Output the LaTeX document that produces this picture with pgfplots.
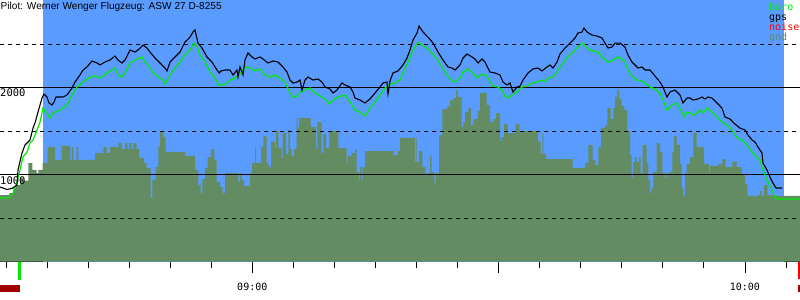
\documentclass[border=0pt]{standalone}
\usepackage{pgfplots}
\pgfplotsset{compat=1.18}
\usepackage{fontspec}
\setmainfont{Liberation Sans}
\newfontfamily\mono{DejaVu Sans Mono}
\definecolor{skyb}{RGB}{90,155,255}
\definecolor{gndc}{RGB}{99,140,99}
\definecolor{baroc}{RGB}{0,235,0}
\definecolor{darkr}{RGB}{160,0,0}
\begin{document}
\begin{tikzpicture}
\useasboundingbox (0,-38.5bp) rectangle (800bp,261.5bp);
\begin{axis}[
 width=800bp, height=261.5bp, scale only axis,
 xmin=0, xmax=800, ymin=0, ymax=3006,
 axis x line*=bottom, axis y line=none,
 clip=false,
 tick align=outside,
 xtick={6,47.05,88.1,129.15,170.2,211.25,293.35,334.4,375.45,416.5,457.55,539.65,580.7,621.75,662.8,703.85,785.95},
 xticklabels={},
 major tick length=6bp,
 extra x ticks={252.3,498.6,744.9},
 extra x tick labels={},
 extra x tick style={major tick length=11bp},
 tick style={black, line width=0.8bp},
 axis line style={black, line width=1bp},
]
% blue flight background
\addplot[fill=skyb, draw=none] coordinates {(43.3,0) (43.3,3006) (783.5,3006) (783.5,0)} -- cycle;
% terrain (gnd)
\addplot[const plot, fill=gndc, draw=none] table {
x y
0 764
9.3 787
13.3 845
16 879
20 960
23.3 930
28.3 1132
32.3 1052
36.7 1017
38.3 1052
42.7 1132
47.7 1316
55 1167
61.7 1328
70 1167
71.7 1316
73.3 1167
76.7 1316
78.3 1167
95 1247
103.3 1316
106.7 1247
110 1316
115 1316
118.3 1362
121.7 1293
125 1362
127.3 1293
129 1362
131.7 1293
133.3 1362
136.7 1293
139.3 1190
144 1132
146.7 1075
150.7 730
152.3 937
155.7 1086
158.3 1316
160 1500
163.3 1431
165.7 1259
185 1213
195 1052
198.3 879
200.7 787
202.3 948
205 1075
207.7 1201
211 1293
214.3 1167
216.7 914
220 856
222.7 787
225 1017
238.3 914
240 1017
241.7 937
244 868
250 1017
252 1132
255 1316
256 1132
261 1316
263.3 1442
266.7 1132
268.3 1098
270 1075
271 1374
275 1305
276 1500
278.3 1305
281.7 1190
282.7 1477
286 1236
288.3 1511
290 1293
291.7 1213
294 1293
296.7 1649
297.7 1546
299 1649
310.7 1546
316 1293
317.3 1603
321.7 1247
323.3 1465
326 1305
329.3 1500
338.3 1305
346.7 1132
347.7 1213
351.7 1247
355 1293
356.7 1029
359 937
360 1086
361.7 937
362.7 1086
365 1270
393.3 1224
397.7 1270
400 1420
415 1144
416 1420
416.7 1144
419 1270
422.3 1086
425.7 971
426.7 1017
430 1213
431.7 1029
434.3 902
435.7 1017
439 1454
442.3 1753
447.3 1787
450 1856
453.3 1879
456 1971
457.7 1891
461.7 1546
463.3 1603
465 1718
468.3 1764
471 1569
473.3 1638
477.7 1730
480 1937
486.7 1799
490 1603
493.3 1638
496 1707
500 1385
501 1431
504 1580
507.7 1477
515.7 1580
519.3 1500
538 1374
540.7 1236
542.3 1477
543.3 1236
546 1178
572.7 1075
585 1132
588.3 1339
592.7 1167
595.7 1109
598.3 1316
601 1534
605 1569
607.3 1764
610.7 1638
613.3 1764
615 1891
617.3 1971
619.3 1868
621.7 1787
624.3 1741
627.3 1500
630 1224
631.7 971
633.3 1144
635 1201
636.7 1144
639 1201
640.7 1017
642.7 1339
646.7 1132
648.3 937
650 787
651.7 845
653.3 1029
656.7 1362
660 1259
662.3 1017
665 960
666.7 1017
670 1029
672.3 1259
674 1442
676.7 1339
680 1121
681.7 845
683.3 753
685 1017
686.7 1121
690 1201
693.3 1477
696.7 1316
704 1121
709 1017
710 1098
718.3 1121
722.3 1178
725.7 1086
732.3 1144
736.7 1086
741.7 994
745 891
747.3 753
755 741
756.7 764
760 810
761.7 753
764 879
767.3 764
773.3 753
800 753
} \closedcycle;
% grid lines
\addplot[black, line width=1bp, dash pattern=on 4bp off 4bp] coordinates {(0,500) (800,500)};
\addplot[black, line width=1bp, dash pattern=on 4bp off 4bp] coordinates {(0,1500) (800,1500)};
\addplot[black, line width=1bp, dash pattern=on 4bp off 4bp] coordinates {(0,2500) (800,2500)};
\addplot[black, line width=1bp] coordinates {(0,1000) (800,1000)};
\addplot[black, line width=1bp] coordinates {(0,2000) (800,2000)};
\node[anchor=north west, inner sep=0pt, font=\mono\fontsize{10.5bp}{10.5bp}\selectfont] at (axis cs:0,1983) {2000};
\node[anchor=north west, inner sep=0pt, font=\mono\fontsize{10.5bp}{10.5bp}\selectfont] at (axis cs:0,977) {1000};
% baro
\addplot[baroc, line width=1.2bp] table {
x y
0 730
9 730
13 787
17 914
20 1052
23 1201
27 1259
30 1362
33 1397
37 1511
40 1603
43 1764
47 1707
50 1649
53 1707
60 1741
67 1799
72 1914
77 2006
83 2063
90 2121
95 2132
100 2109
107 2167
115 2224
118 2144
122 2121
125 2167
130 2282
135 2316
142 2351
145 2293
148 2259
153 2178
158 2121
163 2086
165 2040
170 2144
175 2224
180 2293
185 2374
190 2431
194 2511
197 2465
200 2374
205 2293
210 2178
215 2109
219 2029
223 2029
227 2052
230 2086
235 2109
240 2155
245 2236
250 2224
255 2190
260 2213
265 2144
270 2121
275 2144
280 2109
285 2063
290 1937
293 1891
297 1902
300 1948
305 1971
310 1994
315 1937
320 1902
325 1868
329 1810
333 1856
338 1891
345 1914
350 1833
355 1741
360 1718
365 1672
370 1764
375 1833
380 1914
385 1994
390 2040
395 2052
400 2086
403 2167
408 2293
413 2431
418 2523
422 2488
427 2454
432 2397
437 2328
442 2236
447 2144
452 2075
455 2063
460 2109
463 2178
468 2213
473 2167
477 2109
482 2155
487 2132
490 2063
493 2017
498 2006
502 1971
505 1902
508 1879
512 1914
517 1948
522 2006
527 2017
532 2052
537 2063
542 2086
545 2063
548 2109
553 2121
557 2178
560 2236
565 2316
570 2374
575 2431
578 2465
583 2511
588 2442
593 2420
598 2408
603 2339
608 2293
612 2305
617 2351
622 2328
625 2293
628 2201
632 2132
637 2086
642 2075
645 2052
650 2006
655 1983
660 1937
663 1856
667 1741
672 1799
677 1822
682 1718
684 1661
687 1718
690 1707
693 1684
697 1707
700 1741
703 1707
707 1764
712 1718
717 1661
722 1603
727 1569
732 1511
737 1420
742 1397
747 1339
752 1259
757 1201
760 1167
763 1052
767 937
772 822
775 730
780 718
800 718
};
% gps
\addplot[black, line width=1.1bp] table {
x y
0 856
7 828
12 840
17 879
18 1052
22 1247
25 1339
30 1397
33 1534
35 1592
38 1718
42 1879
44 1925
47 1891
49 1822
52 1799
54 1833
56 1891
63 1891
67 1914
72 1994
75 2063
80 2144
83 2201
87 2236
92 2305
97 2282
100 2259
105 2293
110 2316
115 2362
118 2316
122 2282
125 2316
130 2431
135 2408
138 2431
143 2488
147 2454
150 2408
155 2339
160 2282
165 2224
167 2190
170 2293
175 2351
180 2408
185 2523
190 2580
193 2638
195 2661
198 2511
202 2454
207 2351
212 2293
215 2236
219 2167
221 2190
225 2201
230 2201
233 2144
237 2201
238 2121
240 2236
242 2178
243 2144
245 2316
248 2397
252 2351
255 2328
260 2351
263 2328
268 2282
273 2305
278 2293
283 2236
287 2178
290 2086
293 2052
297 2063
300 2086
302 1971
305 2086
308 2121
313 2086
318 2098
322 2063
325 2006
330 1983
333 1937
337 1971
342 2052
345 2029
350 2006
353 1948
355 1879
360 1856
365 1822
370 1868
375 1937
380 2006
383 2052
387 2063
388 1925
390 2075
393 2167
398 2190
403 2259
407 2339
410 2431
413 2546
417 2626
419 2707
423 2638
428 2580
433 2511
438 2408
443 2316
448 2236
452 2224
455 2201
460 2259
463 2339
467 2385
472 2351
475 2328
478 2282
482 2328
485 2293
490 2178
495 2167
500 2144
503 2063
507 2029
510 2052
513 1948
517 2006
520 2017
523 2086
528 2167
533 2213
538 2224
542 2190
547 2236
550 2259
553 2224
557 2293
560 2385
565 2454
570 2511
575 2569
578 2626
582 2638
584 2684
587 2638
592 2603
597 2592
602 2569
605 2511
608 2454
612 2465
615 2511
620 2511
625 2465
628 2374
632 2293
635 2259
638 2224
642 2236
645 2201
650 2201
655 2132
660 2063
663 2006
667 1891
670 1948
675 1971
680 1914
683 1822
687 1879
690 1879
693 1856
698 1868
702 1891
705 1868
708 1891
712 1879
717 1822
722 1764
725 1661
730 1638
735 1580
740 1534
745 1511
748 1454
752 1397
755 1374
758 1316
762 1247
763 1132
767 1052
770 971
773 902
776 845
782 845
};
% title and legend
\node[anchor=base west, inner sep=0pt, font=\fontsize{10.1bp}{10.1bp}\selectfont] at (axis cs:0.5,2897) {Pilot: Werner Wenger Flugzeug: ASW 27 D-8255};
\node[anchor=base west, inner sep=0pt, text=baroc, font=\mono\fontsize{10bp}{10bp}\selectfont] at (axis cs:769,2891) {baro};
\node[anchor=base west, inner sep=0pt, text=black, font=\mono\fontsize{10bp}{10bp}\selectfont] at (axis cs:769,2776) {gps};
\node[anchor=base west, inner sep=0pt, text=red, font=\mono\fontsize{10bp}{10bp}\selectfont] at (axis cs:769,2661) {noise};
\node[anchor=base west, inner sep=0pt, text=gndc, font=\mono\fontsize{10bp}{10bp}\selectfont] at (axis cs:769,2546) {gnd};
% time labels
\node[anchor=base, inner sep=0pt, font=\mono\fontsize{10bp}{10bp}\selectfont] at (axis cs:252.3,-328) {09:00};
\node[anchor=base, inner sep=0pt, font=\mono\fontsize{10bp}{10bp}\selectfont] at (axis cs:744.9,-328) {10:00};
% takeoff / landing markers
\addplot[baroc, line width=2.5bp] coordinates {(19.5,0) (19.5,-213)};
\addplot[red, line width=2bp] coordinates {(799,0) (799,-205)};
\addplot[fill=darkr, draw=none] coordinates {(0,-270) (20,-270) (20,-351) (0,-351)} -- cycle;
\addplot[fill=darkr, draw=none] coordinates {(798,-270) (800,-270) (800,-351) (798,-351)} -- cycle;
\end{axis}
\end{tikzpicture}
\end{document}
